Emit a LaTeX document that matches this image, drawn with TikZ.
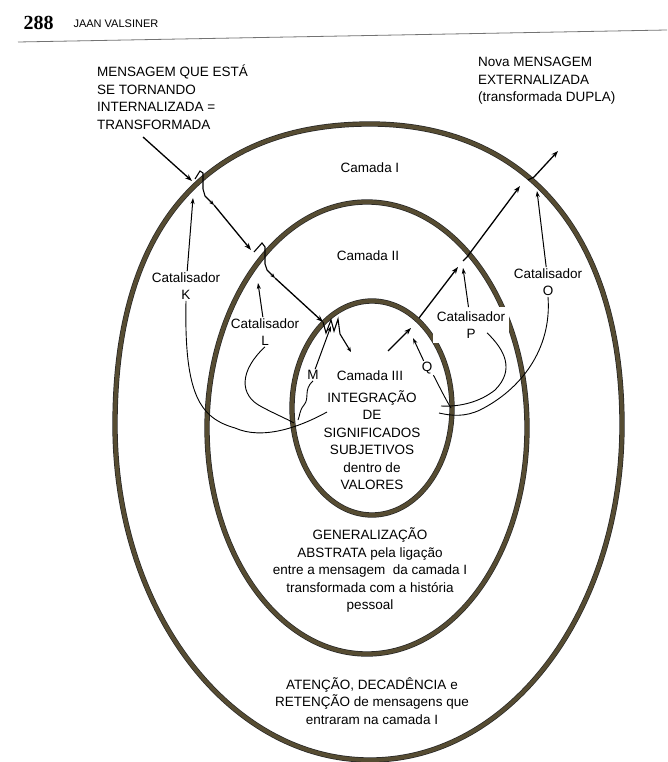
\documentclass[tikz,border=0pt]{standalone}
\usepackage{fontspec}
\setmainfont{Liberation Sans}
\newfontfamily\serifnum{Liberation Serif}
\usetikzlibrary{arrows.meta}
\definecolor{ringfill}{RGB}{86,76,50}

\tikzset{
  ring/.style={draw=black!85, line width=0.7pt, double=ringfill, double distance=3.9pt},
  msg/.style={line width=1.3pt, -{Stealth[length=7pt,width=5pt]}},
  msgtip/.style={line width=1.1pt, -{Stealth[length=5pt,width=4pt]}},
  cat/.style={line width=0.9pt},
  catarrow/.style={line width=1pt, -{Stealth[length=6pt,width=4pt]}},
  lbl/.style={font=\fontsize{13.5}{17.5}\selectfont, align=center, inner sep=1pt},
}

\begin{document}
\begin{tikzpicture}[x=1pt,y=-1pt]
  \useasboundingbox (0,0) rectangle (667,762);

  % Header
  \node[anchor=base west, font=\serifnum\bfseries\fontsize{20}{20}\selectfont] (pageno) at (20,30) {288};
  \node[anchor=base west, font=\fontsize{11}{11}\selectfont] (author) at (70,28) {JAAN VALSINER};
  \draw[black!55, line width=0.8pt] (18,42) -- (667,30);

  % Ring of camada I (flatter on top)
  \draw[ring] (370,124) .. controls (212,124) and (115,220) .. (115,425)
    .. controls (115,610) and (229,760) .. (370,760)
    .. controls (511,760) and (622,610) .. (622,425)
    .. controls (622,235) and (526,124) .. cycle;
  % Rings of camada II and III
  \foreach \cx/\cy/\rx/\ry in {367/428/160/226, 372/408/80/107}
    \draw[ring] (\cx,\cy) ellipse [x radius=\rx pt, y radius=\ry pt];

  % Texts
  \node[lbl, align=left, anchor=west] (msgin) at (96,97) {MENSAGEM QUE ESTÁ\\SE TORNANDO\\INTERNALIZADA =\\TRANSFORMADA};
  \node[lbl, align=left, anchor=west] (msgout) at (477,81) {Nova MENSAGEM\\EXTERNALIZADA\\(transformada DUPLA)};
  \node[lbl] (cam1) at (370,168) {Camada I};
  \node[lbl] (cam2) at (368,256) {Camada II};
  \node[lbl] (cam3) at (370,376) {Camada III};
  \node[lbl] (core) at (372,440) {INTEGRAÇÃO\\DE\\SIGNIFICADOS\\SUBJETIVOS\\dentro de\\VALORES};
  \node[lbl] (gen) at (370,570) {GENERALIZAÇÃO\\ABSTRATA pela ligação\\entre a mensagem\ \ da camada I\\transformada com a história\\pessoal};
  \node[lbl] (aten) at (372,701) {ATENÇÃO, DECADÊNCIA e\\RETENÇÃO de mensagens que\\entraram na camada I};

  % Catalysts
  \node[lbl] (catK) at (186,286) {Catalisador\\K};
  \node[lbl] (catL) at (265,332) {Catalisador\\L};
  \node[lbl] (catM) at (313,375) {M};
  \node[lbl] (catO) at (548,282) {Catalisador\\O};
  \node[lbl, fill=white, inner sep=4pt] (catP) at (471,325) {Catalisador\\P};
  \node[lbl] (catQ) at (427,368) {Q};

  % Points on the message path
  \coordinate (inStart) at (143,137);
  \coordinate (c1) at (192,181);
  \coordinate (c2) at (251,250);
  \coordinate (c3) at (323,322);
  \coordinate (c3in) at (351,352);
  \coordinate (e0) at (388,351);
  \coordinate (c4) at (411,328);
  \coordinate (c5) at (458,267);
  \coordinate (c6) at (520,186);
  \coordinate (outEnd) at (558,151);

  % Catalyst tips and curve ends
  \coordinate (kTip) at (193,198);
  \coordinate (lTip) at (258,283);
  \coordinate (mTip) at (331,326);
  \coordinate (oTip) at (537,191);
  \coordinate (pTip) at (463,268);
  \coordinate (qTip) at (413,338);
  \coordinate (kEnd) at (327,412);
  \coordinate (lEnd) at (294,423);
  \coordinate (mEnd) at (298,420);
  \coordinate (oEnd) at (439,413);
  \coordinate (pEnd) at (441,406);
  \coordinate (qEnd) at (451,408);

  % Message going in
  \draw[msg] (inStart) -- (c1);
  \draw[msgtip] (c1) ++(3,-2) -- ++(5,-8) -- ++(3,2) -- ++(0,16) -- ++(2,7) -- ++(9,9) coordinate (w1);
  \draw[msg] (w1) -- (c2);
  \draw[msgtip] (c2) ++(3,2) -- ++(8,-9) -- ++(3,4) -- ++(0,17) -- ++(2,6) -- ++(8,8) coordinate (w2);
  \draw[msg] (w2) -- (c3);
  \draw[msgtip] (c3) -- ++(3,11) -- ++(5,-13) -- ++(3,11) -- ++(4,-12) -- ++(2,15) -- (c3in);

  % Message going out
  \draw[msg] (e0) -- (c4);
  \draw[msg] (c4) ++(8,-10) -- (c5);
  \draw[msg] (c5) ++(5,-6) -- ++(4,-4) -- (c6);
  \draw[msg] (c6) ++(8,-6) -- ++(6,-3) -- (outEnd);

  % Catalyst arrows
  \draw[catarrow] (catK) -- (kTip);
  \draw[catarrow] (catL) -- (lTip);
  \draw[catarrow] (catM) -- (mTip);
  \draw[catarrow] (catO) -- (oTip);
  \draw[catarrow] (catP) -- (pTip);
  \draw[catarrow] (catQ) -- (qTip);

  % Catalyst curves back to camada III
  \draw[cat] (catK.south) .. controls (184,395) and (200,418) .. (235,428) .. controls (262,440) and (298,428) .. (kEnd);
  \draw[cat] (catL.south) .. controls (240,370) and (238,395) .. (262,407) .. controls (275,414) and (285,418) .. (lEnd);
  \draw[cat] (catM.south) .. controls (303,390) and (310,398) .. (304,405) .. controls (299,411) and (300,416) .. (mEnd);
  \draw[cat] (catO.south) .. controls (552,350) and (520,390) .. (480,410) .. controls (465,417) and (452,416) .. (oEnd);
  \draw[cat] (catP.south) ++(16,-10) .. controls (505,350) and (515,370) .. (495,390) .. controls (480,402) and (460,407) .. (pEnd);
  \draw[cat] (catQ.south east) .. controls (440,388) and (446,400) .. (qEnd);
\end{tikzpicture}
\end{document}
